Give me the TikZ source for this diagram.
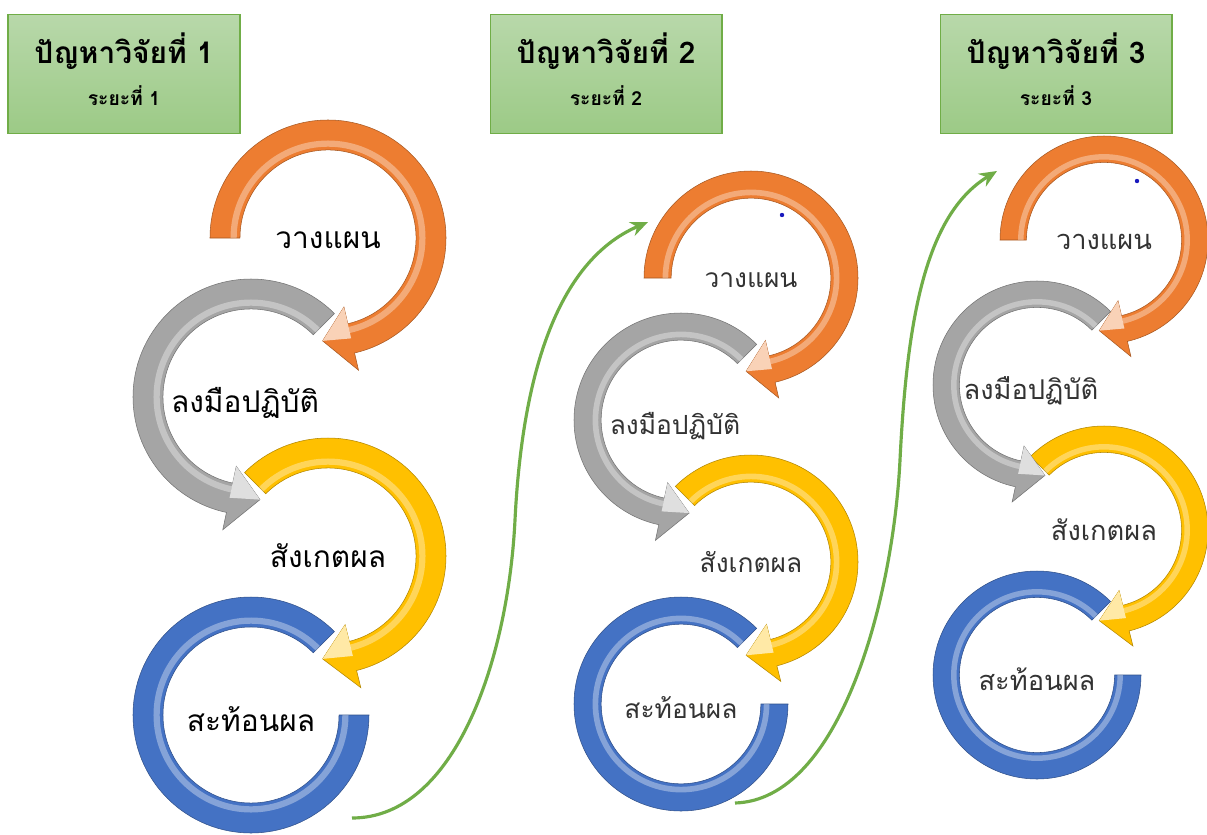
\documentclass[tikz,border=0pt]{standalone}
\usepackage{fontspec}
\newfontfamily\thaifont[Script=Thai]{Loma}
\usetikzlibrary{arrows.meta}
\definecolor{ring_orange}{RGB}{237,125,49}
\definecolor{ring_gray}{RGB}{165,165,165}
\definecolor{ring_yellow}{RGB}{255,192,0}
\definecolor{ring_blue}{RGB}{68,114,196}
\definecolor{edge_green}{RGB}{112,173,71}
\definecolor{head_top}{RGB}{184,216,170}
\definecolor{head_bot}{RGB}{156,202,134}
\definecolor{dot_blue}{RGB}{25,25,190}

% one ring of the cycle, drawn round the origin of a scaled scope
\newcommand{\ringband}[3]{%
  \filldraw[fill=#1, draw=#1!70!black, line width=.3pt]
    (#2:1) arc[start angle=#2, end angle=#3, radius=1]
    -- (#3:0.746) arc[start angle=#3, end angle=#2, radius=0.746] -- cycle;
  \draw[white, opacity=.35, line width=\R*0.03pt]
    (#2:0.80) arc[start angle=#2, end angle=#3, radius=0.80];
}
\newcommand{\ringarrow}[4]{%
  \filldraw[fill=#1, draw=#1!70!black, line width=.3pt]
    (#2:1) arc[start angle=#2, end angle=#3, radius=1]
    -- (#3:1.15) -- (#4:0.873) -- (#3:0.6)
    -- (#3:0.746) arc[start angle=#3, end angle=#2, radius=0.746] -- cycle;
  \fill[#1!35!white] (#3:0.873) -- (#4:0.873) -- (#3:0.6) -- cycle;
  \draw[white, opacity=.35, line width=\R*0.03pt]
    (#2:0.80) arc[start angle=#2, end angle=#3, radius=0.80];
}

\begin{document}
\begin{tikzpicture}[x=0.02cm,y=0.02cm,semithick,>={Stealth[length=10pt,width=8.5pt]}]
    \tikzstyle{hdr}=[draw=edge_green, top color=head_top, bottom color=head_bot,
                     minimum width=4.64cm, minimum height=2.38cm, inner sep=0pt]
    \tikzstyle{ttl}=[inner sep=0pt, font=\thaifont\bfseries\fontsize{17}{20}\selectfont]
    \tikzstyle{sub}=[inner sep=0pt, font=\thaifont\bfseries\fontsize{11}{13}\selectfont]
    \tikzstyle{lbl}=[inner sep=0pt]
    \tikzstyle{link}=[->, edge_green, line width=1.8pt]

    \useasboundingbox[fill=white] (0,0) rectangle (1207,-835);

    % headers
    \foreach \n/\x in {1/124, 2/606, 3/1056}{
      \node[hdr] (hd\n) at (\x,-74) {};
      \node[ttl, anchor=base] (ttl\n) at (\x,-63) {ปัญหาวิจัยที่ \n};
      \node[sub, anchor=base] (sub\n) at (\x,-105) {ระยะที่ \n};
    }

    % the four rings of each stage
    \foreach \n/\cx/\cy/\dx/\h/\R/\fs/\tc in
        {1/251/238/77/159/118/17/black, 2/681/278/70/142/107/15/black!80,
         3/1037/240/67/145/104/15.5/black!80}{
      \begin{scope}[shift={({\cx},{-\cy-3*\h})}, scale=\R]
        \ringband{ring_blue}{45}{360}
      \end{scope}
      \begin{scope}[shift={({\cx+\dx},{-\cy-2*\h})}, scale=\R]
        \ringarrow{ring_yellow}{135}{-76}{-93}
      \end{scope}
      \begin{scope}[shift={({\cx},{-\cy-\h})}, scale=\R]
        \ringarrow{ring_gray}{45}{258}{275}
      \end{scope}
      \begin{scope}[shift={({\cx+\dx},{-\cy})}, scale=\R]
        \ringarrow{ring_orange}{180}{-77}{-93}
      \end{scope}
      \node[lbl, text=\tc, font=\thaifont\fontsize{\fs}{\fs}\selectfont]
        (plan\n) at ({\cx+\dx},{-\cy-2}) {วางแผน};
      \node[lbl, text=\tc, font=\thaifont\fontsize{\fs}{\fs}\selectfont]
        (act\n) at ({\cx-6},{-\cy-\h-6}) {ลงมือปฏิบัติ};
      \node[lbl, text=\tc, font=\thaifont\fontsize{\fs}{\fs}\selectfont]
        (obs\n) at ({\cx+\dx},{-\cy-2*\h}) {สังเกตผล};
      \node[lbl, text=\tc, font=\thaifont\fontsize{\fs}{\fs}\selectfont]
        (refl\n) at ({\cx},{-\cy-3*\h-4}) {สะท้อนผล};
    }

    \fill[dot_blue] (782,-215) circle (2.2);
    \fill[dot_blue] (1137,-181) circle (2.2);

    % links between the stages
    \coordinate (out1) at (352,-818);
    \coordinate (in2)  at (648,-222);
    \coordinate (out2) at (735,-803);
    \coordinate (in3)  at (997,-171);
    \draw[link] (out1) .. controls (455,-818) and (508,-660) .. (515,-520)
                       .. controls (522,-380) and (555,-262) .. (in2);
    \draw[link] (out2) .. controls (840,-800) and (893,-600) .. (900,-460)
                       .. controls (907,-320) and (925,-215) .. (in3);
\end{tikzpicture}
\end{document}
